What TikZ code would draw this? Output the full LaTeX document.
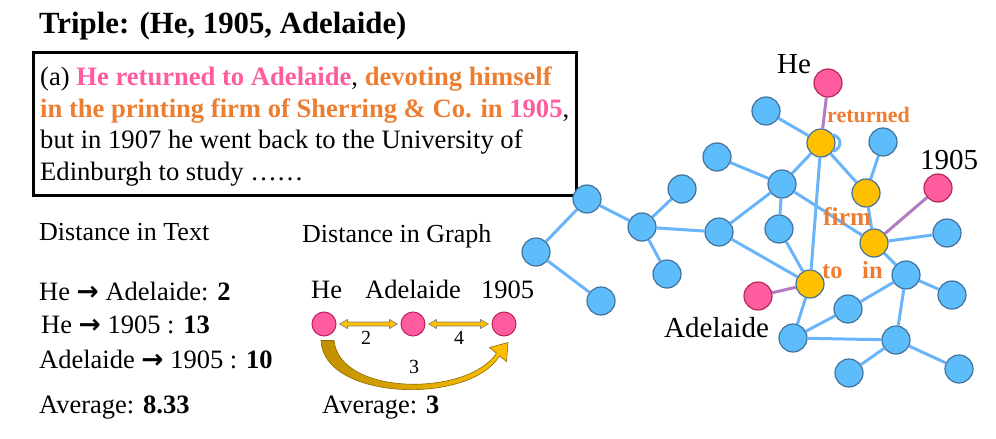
\documentclass[tikz,border=0pt]{standalone}
\usepackage{fontspec}
\setmainfont{Liberation Serif}
\newfontfamily\symf{DejaVu Sans}
\usetikzlibrary{calc}
\definecolor{pinkt}{HTML}{FF5CA0}
\definecolor{orng}{HTML}{ED7D31}
\definecolor{bfill}{HTML}{5DBDFB}
\definecolor{bline}{HTML}{41719C}
\definecolor{bedge}{HTML}{6AB4FA}
\definecolor{yfill}{HTML}{FFC000}
\definecolor{pfill}{HTML}{FF5CA0}
\definecolor{pline}{HTML}{B8255A}
\definecolor{pedge}{HTML}{B27BC4}
\definecolor{goldD}{HTML}{BF9000}
\definecolor{goldL}{HTML}{FFC000}
\definecolor{goldE}{HTML}{8C6A00}
\newcommand{\fs}[1]{\fontsize{#1}{#1}\selectfont}
\newcommand{\arr}{{\symf\bfseries →}}
\newcommand{\dblarr}[2]{%
  \filldraw[fill=yfill, draw=gray, line width=0.6pt]
    ($(#1.east)+(3,0)$) -- ($(#1.east)+(11,-4.5)$) -- ($(#1.east)+(11,-2)$) --
    ($(#2.west)+(-11,-2)$) -- ($(#2.west)+(-11,-4.5)$) -- ($(#2.west)+(-3,0)$) --
    ($(#2.west)+(-11,4.5)$) -- ($(#2.west)+(-11,2)$) -- ($(#1.east)+(11,2)$) --
    ($(#1.east)+(11,4.5)$) -- cycle;}
\begin{document}
\begin{tikzpicture}[x=1pt,y=-1pt,
  txt/.style={inner sep=0pt, anchor=base west},
  gnode/.style={circle, minimum size=28pt, inner sep=0pt, line width=1.2pt},
  bn/.style={gnode, fill=bfill, draw=bline},
  yn/.style={gnode, fill=yfill, draw=bline},
  pn/.style={gnode, fill=pfill, draw=pline},
  sp/.style={circle, minimum size=24pt, inner sep=0pt, fill=pfill, draw=pline, line width=1pt},
  be/.style={draw=bedge, line width=3pt},
  pe/.style={draw=pedge, line width=3pt},
  olab/.style={txt, text=orng, font=\bfseries}
]
\useasboundingbox (0,0) rectangle (996,439);

% ---------- title and sentence box ----------
\node[txt, font=\fs{30.8}\bfseries] (title) at (39,34) {Triple: (He, 1905, Adelaide)};
\node[draw, line width=3pt, minimum width=543pt, minimum height=143pt, anchor=north west, inner sep=0pt] (box) at (32,51) {};
\node[txt, font=\fs{26.6}] (l1) at (40,85) {(a) \textbf{\color{pinkt}He returned to Adelaide}, \textbf{\color{orng}devoting himself}};
\node[txt, font=\fs{26.6}] (l2) at (40,117) {\textbf{\color{orng}in the printing firm of Sherring \& Co. in }\textbf{\color{pinkt}1905},};
\node[txt, font=\fs{26.6}] (l3) at (40,148) {but in 1907 he went back to the University of};
\node[txt, font=\fs{26.6}] (l4) at (40,180) {Edinburgh to study ……};

% ---------- distance in text ----------
\node[txt, font=\fs{26}] (dt) at (39,240) {Distance in Text};
\node[txt, font=\fs{26.5}] (t1) at (39,300) {He \arr\ Adelaide: \textbf{2}};
\node[txt, font=\fs{26.5}] (t2) at (41,333) {He \arr\ 1905 : \textbf{13}};
\node[txt, font=\fs{26.5}] (t3) at (39,368) {Adelaide \arr\ 1905 : \textbf{10}};
\node[txt, font=\fs{26.5}] (t4) at (39,413) {Average: \textbf{8.33}};

% ---------- distance in graph ----------
\node[txt, font=\fs{26}] (dg) at (302,242) {Distance in Graph};
\node[txt, font=\fs{26.5}] (lh) at (311,298) {He};
\node[txt, font=\fs{26.5}] (la) at (365,298) {Adelaide};
\node[txt, font=\fs{26.5}] (l19) at (481,298) {1905};
\node[sp] (gh) at (324,324) {};
\node[sp] (ga) at (413,324) {};
\node[sp] (g19) at (504,324) {};
\dblarr{gh}{ga}
\dblarr{ga}{g19}
\shade[left color=goldD, right color=goldL, draw=goldE, line width=0.6pt]
  ($(gh.south)+(-3,4)$) .. controls ($(gh.south)+(-1,64)$) and ($(g19.south)+(-34,69)$) .. ($(g19.south)+(-4.5,19.3)$)
  -- ($(g19.south)+(2.5,25)$) -- ($(g19.south)+(4,6)$) -- ($(g19.south)+(-14.5,11)$)
  -- ($(g19.south)+(-7.5,16.7)$) .. controls ($(g19.south)+(-36,60)$) and ($(gh.south)+(16,60)$) .. ($(gh.south)+(10,4)$) -- cycle;
\node[font=\fs{20}, inner sep=0pt] (n2) at (366,338) {2};
\node[font=\fs{20}, inner sep=0pt] (n4) at (459,338) {4};
\node[font=\fs{20}, inner sep=0pt] (n3) at (414,367) {3};
\node[txt, font=\fs{26.5}] (avg) at (322,413) {Average: \textbf{3}};

% ---------- graph ----------
\node[pn] (He) at (828,83) {};
\node[bn] (b1) at (766,111) {};
\node[yn] (ret) at (821,143) {};
\node[bn] (b2) at (883,142) {};
\node[pn] (y19) at (938,188) {};
\node[bn] (b3) at (717,157) {};
\node[bn] (b4) at (782,184) {};
\node[yn] (firm) at (866,193) {};
\node[bn] (b5) at (682,189) {};
\node[bn] (b6) at (587,199) {};
\node[bn] (b7) at (642,227) {};
\node[bn] (b8) at (719,232) {};
\node[bn] (b9) at (779,229) {};
\node[yn] (in) at (874,243) {};
\node[bn] (b10) at (947,233) {};
\node[bn] (b11) at (536,252) {};
\node[bn] (b12) at (667,274) {};
\node[yn] (to) at (810,284) {};
\node[bn] (b13) at (906,275) {};
\node[bn] (b14) at (952,295) {};
\node[pn] (adel) at (758,296) {};
\node[bn] (b15) at (601,301) {};
\node[bn] (b16) at (848,309) {};
\node[bn] (b17) at (793,338) {};
\node[bn] (b18) at (896,340) {};
\node[bn] (b19) at (849,373) {};
\node[bn] (b20) at (959,369) {};

\draw[pe] (He) -- (ret);
\draw[pe] (y19) -- (in);
\draw[pe] (adel) -- (to);
\draw[be] (b1) -- (ret);
\draw[be] (ret.35) .. controls +(20:10) and +(-20:10) .. (ret.-35);
\draw[be] (ret) -- (b4);
\draw[be] (ret) -- (firm);
\draw[be] (ret) -- (to);
\draw[be] (b2) -- (firm);
\draw[be] (firm) -- (in);
\draw[be] (in) -- (b10);
\draw[be] (in) -- (b13);
\draw[be] (b3) -- (b4);
\draw[be] (b4) -- (b8);
\draw[be] (b4) -- (b9);
\draw[be] (b4) -- (in);
\draw[be] (b9) -- (to);
\draw[be] (b8) -- (to);
\draw[be] (b8) -- (b7);
\draw[be] (b7) -- (b5);
\draw[be] (b7) -- (b6);
\draw[be] (b7) -- (b12);
\draw[be] (b6) -- (b11);
\draw[be] (b11) -- (b15);
\draw[be] (to) -- (b17);
\draw[be] (b17) -- (b16);
\draw[be] (b16) -- (b13);
\draw[be] (b13) -- (b14);
\draw[be] (b13) -- (b18);
\draw[be] (b17) -- (b18);
\draw[be] (b18) -- (b19);
\draw[be] (b18) -- (b20);

\node[txt, font=\fs{29}] (hel) at (777,73) {He};
\node[txt, font=\fs{29}] (y19l) at (920,169) {1905};
\node[txt, font=\fs{29}] (adell) at (664,337) {Adelaide};
\node[olab, font=\fs{22}\bfseries] (retl) at (827,122) {returned};
\node[olab, font=\fs{25.5}\bfseries] (firml) at (823,225) {firm};
\node[olab, font=\fs{24.5}\bfseries] (tol) at (822,278) {to};
\node[olab, font=\fs{24.5}\bfseries] (inl) at (862,278) {in};
\end{tikzpicture}
\end{document}
